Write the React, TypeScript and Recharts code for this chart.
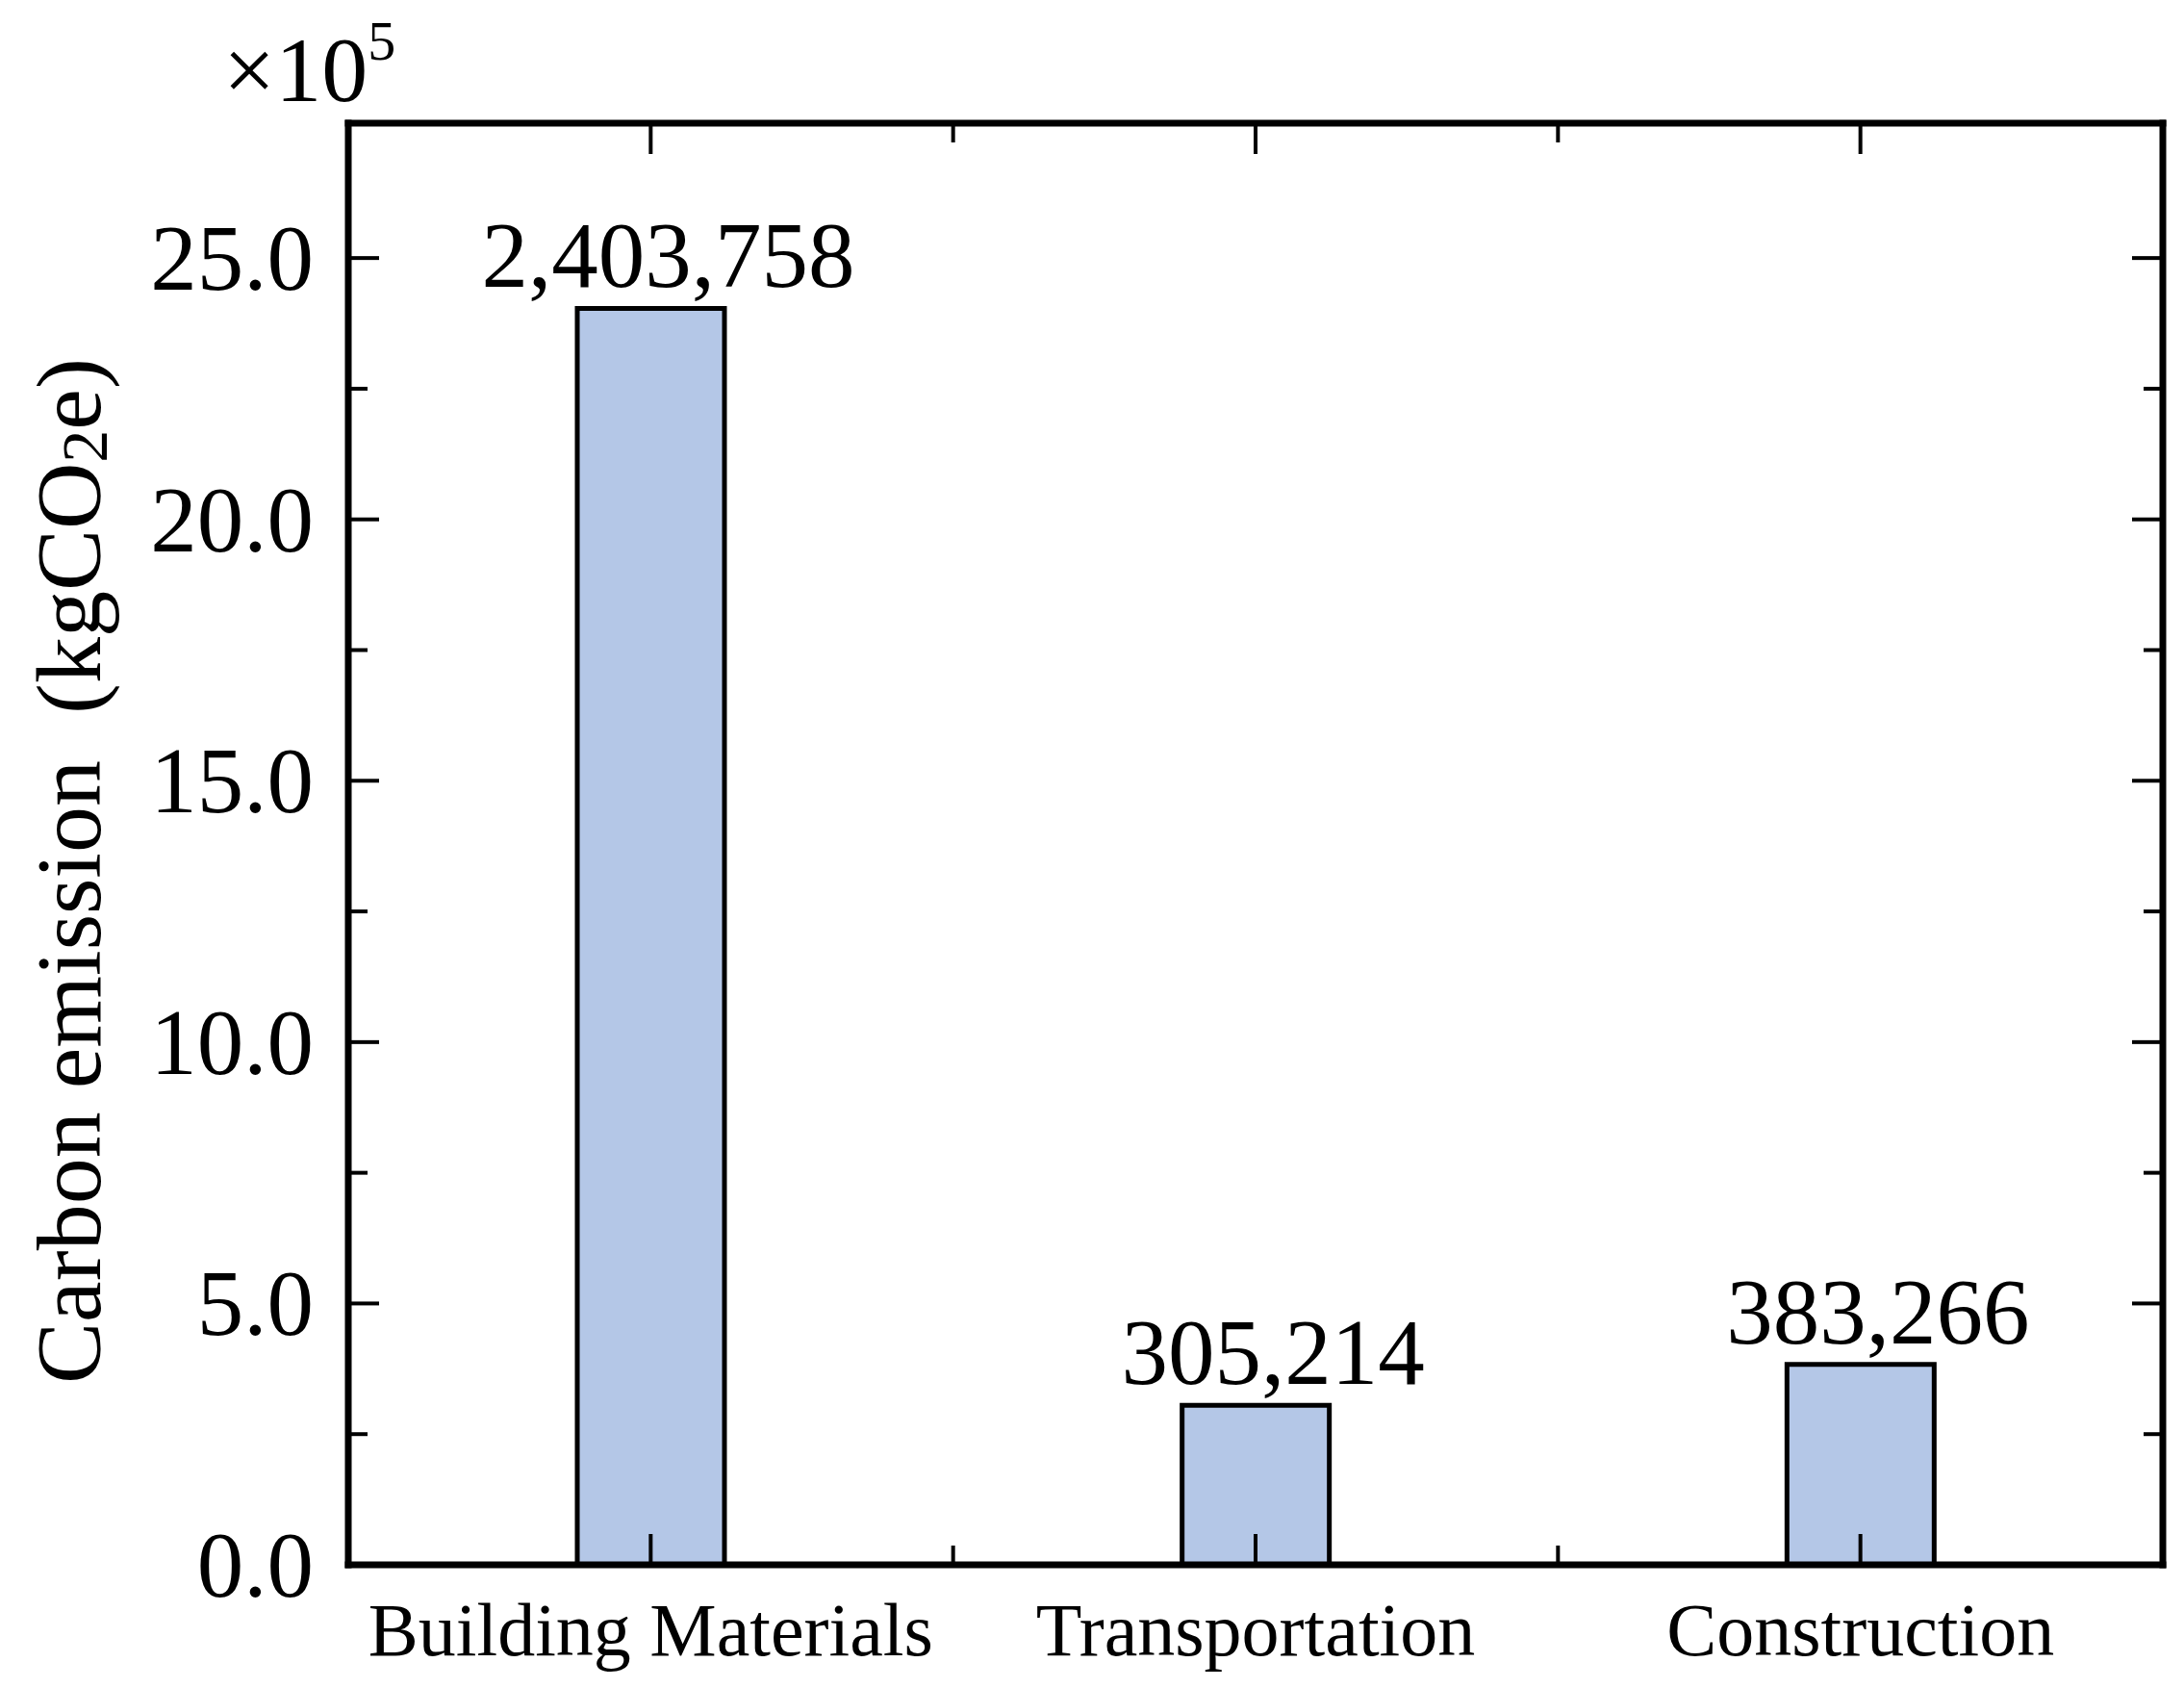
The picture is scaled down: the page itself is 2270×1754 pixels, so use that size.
import React from "react";
import {
  BarChart,
  Bar,
  XAxis,
  YAxis,
  LabelList,
  ReferenceLine,
} from "recharts";

// Values (kgCO2e).
const CATEGORIES = ["Building Materials", "Transportation", "Construction"];
const EMISSIONS = [2403758, 305214, 383266];
// Y ticks every 2.5 ×10^5, labelled every 5 ×10^5.
const Y_TICKS = [
  0, 250000, 500000, 750000, 1000000, 1250000, 1500000, 1750000, 2000000,
  2250000, 2500000,
];
const Y_MAX = 2758000;

const data = CATEGORIES.map((category, i) => ({
  category,
  emission: EMISSIONS[i],
}));

const FONT = '"Liberation Serif", "Times New Roman", Times, serif';

const CHART_W = 2270;
const CHART_H = 1754;
const PLOT_LEFT = 362;
const PLOT_TOP = 128;
const PLOT_RIGHT = 2248;
const PLOT_BOTTOM = 1626;
const PLOT_W = PLOT_RIGHT - PLOT_LEFT;
const PLOT_H = PLOT_BOTTOM - PLOT_TOP;
const BAND = PLOT_W / CATEGORIES.length;

const AXIS_W = 7;
const TICK_W = 4;
const MAJOR = 32;
const MINOR = 20;

const YTick = (props: any) => {
  const { x, y, payload } = props;
  const v = payload.value as number;
  const major = v % 500000 === 0;
  const len = major ? MAJOR : MINOR;
  const xr = x + PLOT_W;
  return (
    <g>
      <line x1={x} y1={y} x2={x + len} y2={y} stroke="#000" strokeWidth={TICK_W} />
      <line x1={xr} y1={y} x2={xr - len} y2={y} stroke="#000" strokeWidth={TICK_W} />
      {major && (
        <text
          x={x - 36}
          y={y + 33}
          textAnchor="end"
          fontFamily={FONT}
          fontSize={97}
          fill="#000"
        >
          {(v / 1e5).toFixed(1)}
        </text>
      )}
    </g>
  );
};

const XTick = (props: any) => {
  const { x, y, payload, index } = props;
  const top = y - PLOT_H;
  const xb = x - BAND / 2;
  return (
    <g>
      <line x1={x} y1={y} x2={x} y2={y - MAJOR} stroke="#000" strokeWidth={TICK_W} />
      <line x1={x} y1={top} x2={x} y2={top + MAJOR} stroke="#000" strokeWidth={TICK_W} />
      {index > 0 && (
        <>
          <line x1={xb} y1={y} x2={xb} y2={y - MINOR} stroke="#000" strokeWidth={TICK_W} />
          <line x1={xb} y1={top} x2={xb} y2={top + MINOR} stroke="#000" strokeWidth={TICK_W} />
        </>
      )}
      <text
        x={x}
        y={y + 94}
        textAnchor="middle"
        fontFamily={FONT}
        fontSize={78}
        fill="#000"
      >
        {payload.value}
      </text>
    </g>
  );
};

const YTitle = () => {
  const cx = 104;
  const cy = 905;
  return (
    <g>
      <text
        x={cx}
        y={cy}
        transform={`rotate(-90 ${cx} ${cy})`}
        textAnchor="middle"
        fontFamily={FONT}
        fontSize={96}
        fill="#000"
        style={{ whiteSpace: "pre" }}
      >
        {"Carbon emission  (kgCO"}
        <tspan fontSize={68} dy={7}>
          2
        </tspan>
        <tspan dy={-7}>{"e)"}</tspan>
      </text>
      <text x={232} y={105} fontFamily={FONT} fontSize={96} fill="#000">
        ×10
        <tspan fontSize={58} dy={-43}>
          5
        </tspan>
      </text>
    </g>
  );
};

const renderValueLabel = (props: any) => {
  const vb = props.viewBox || {};
  const bx = Number(props.x ?? vb.x);
  const by = Number(props.y ?? vb.y);
  const bw = Number(props.width ?? vb.width);
  return (
    <text
      x={bx + bw / 2 + 18}
      y={by - 22}
      textAnchor="middle"
      fontFamily={FONT}
      fontSize={97}
      fill="#000"
    >
      {Number(props.value).toLocaleString("en-US")}
    </text>
  );
};

const App = () => {
  return (
    <div style={{ position: "absolute", left: 0, top: 0, background: "#fff" }}>
      <BarChart
        width={CHART_W}
        height={CHART_H}
        data={data}
        margin={{ top: PLOT_TOP, right: CHART_W - PLOT_RIGHT, bottom: 0, left: 0 }}
      >
        <Bar
          dataKey="emission"
          fill="#b4c7e7"
          stroke="#000"
          strokeWidth={5}
          barSize={153}
          isAnimationActive={false}
        >
          <LabelList dataKey="emission" content={renderValueLabel} />
        </Bar>
        <ReferenceLine
          y={Y_MAX}
          stroke="#000"
          strokeWidth={AXIS_W}
          strokeLinecap="square"
        />
        <ReferenceLine
          x={CATEGORIES[CATEGORIES.length - 1]}
          position="end"
          stroke="#000"
          strokeWidth={AXIS_W}
          strokeLinecap="square"
        />
        <XAxis
          dataKey="category"
          type="category"
          height={CHART_H - PLOT_BOTTOM}
          interval={0}
          tickLine={false}
          tickSize={0}
          tickMargin={0}
          axisLine={{ stroke: "#000", strokeWidth: AXIS_W, strokeLinecap: "square" }}
          tick={<XTick />}
        />
        <YAxis
          type="number"
          domain={[0, Y_MAX]}
          ticks={Y_TICKS}
          interval={0}
          width={PLOT_LEFT}
          tickLine={false}
          tickSize={0}
          tickMargin={0}
          axisLine={{ stroke: "#000", strokeWidth: AXIS_W, strokeLinecap: "square" }}
          tick={<YTick />}
          label={<YTitle />}
        />
      </BarChart>
    </div>
  );
};

export default App;
